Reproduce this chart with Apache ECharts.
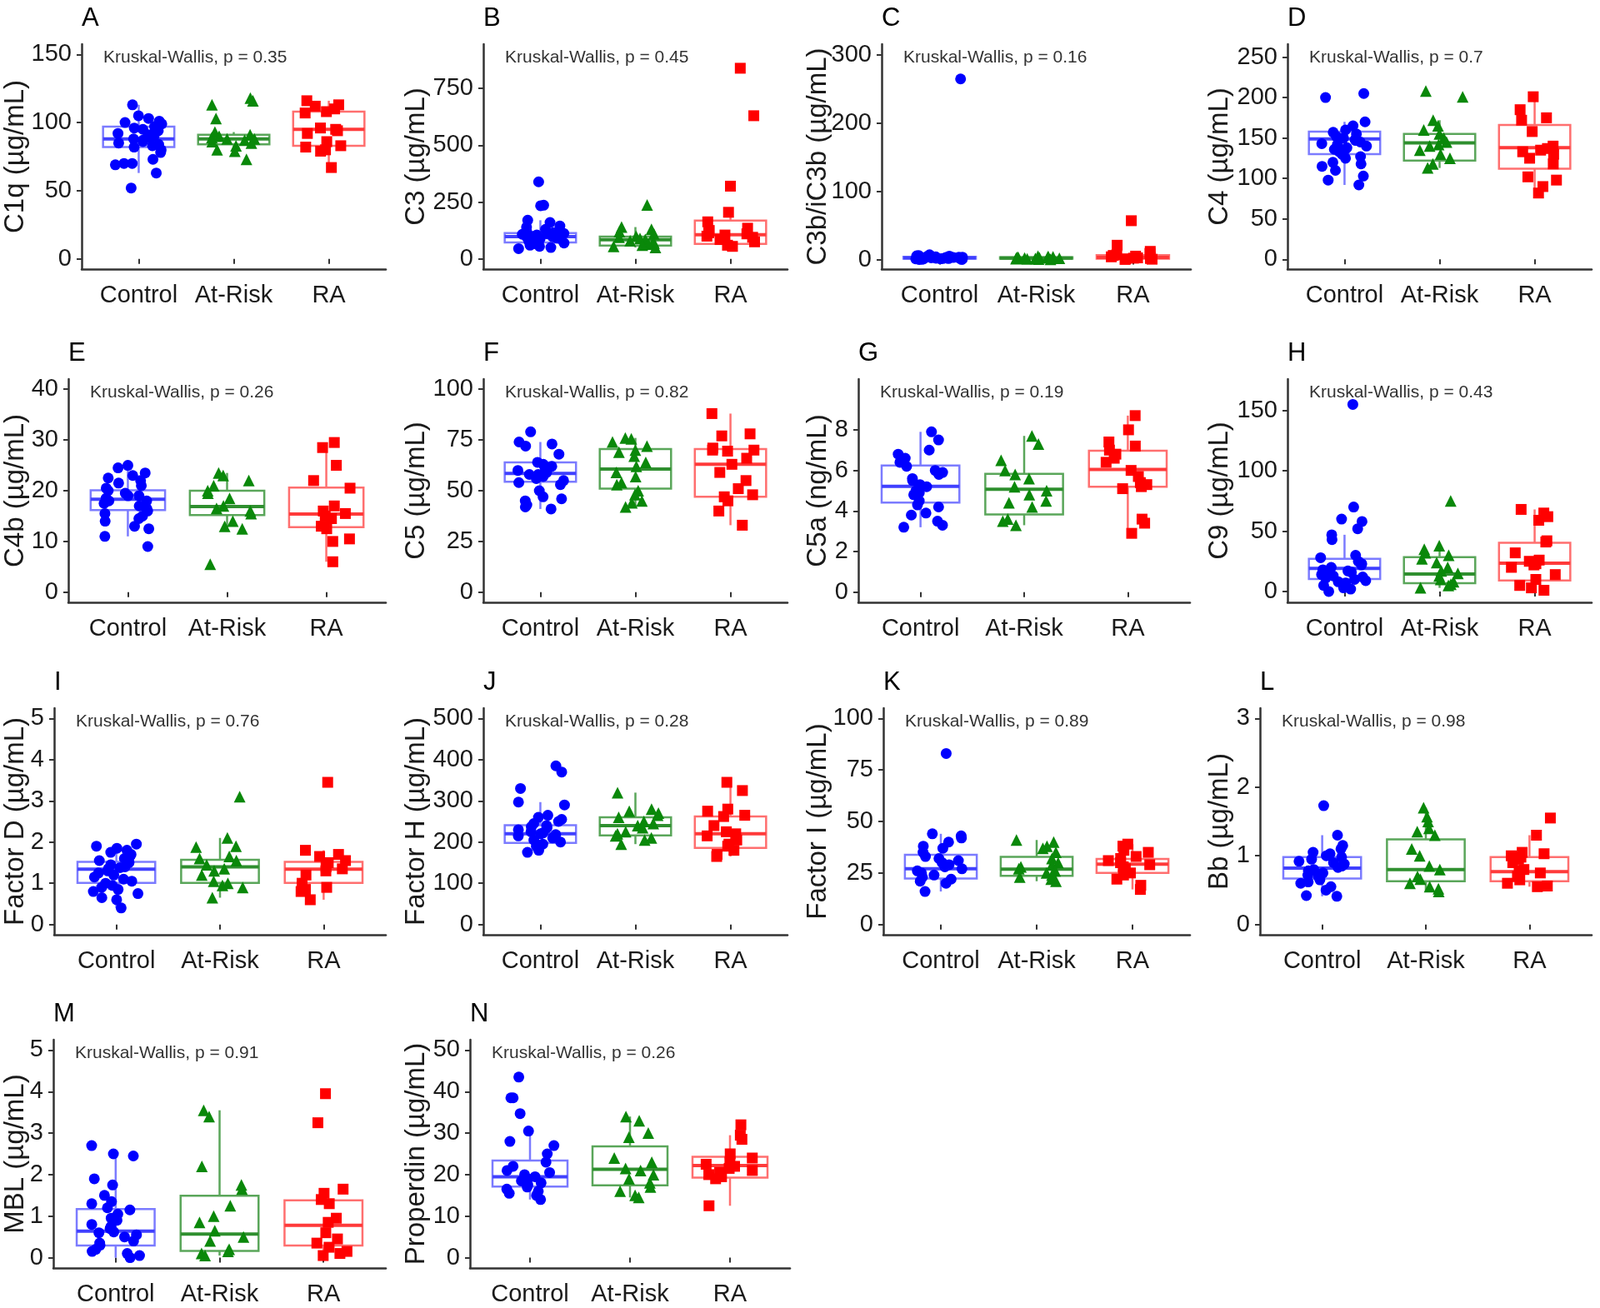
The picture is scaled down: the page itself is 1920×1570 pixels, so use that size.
<!DOCTYPE html>
<html>
<head>
<meta charset="utf-8">
<title>Complement proteins by group</title>
<script src="https://cdn.jsdelivr.net/npm/echarts@6.0.0/dist/echarts.min.js"></script>
<style>
html, body { margin: 0; padding: 0; background: #fff; }
#chart { width: 1920px; height: 1570px; }
</style>
</head>
<body>
<div id="chart"></div>
<script>
// groups on every x axis
const groups = ['Control', 'At-Risk', 'RA'];

const panelLetters = ['A', 'B', 'C', 'D', 'E', 'F', 'G', 'H', 'I', 'J', 'K', 'L', 'M', 'N'];
const yTitles = ['C1q (µg/mL)', 'C3 (µg/mL)', 'C3b/iC3b (µg/mL)', 'C4 (µg/mL)',
  'C4b (µg/mL)', 'C5 (µg/mL)', 'C5a (ng/mL)', 'C9 (µg/mL)',
  'Factor D (µg/mL)', 'Factor H (µg/mL)', 'Factor I (µg/mL)', 'Bb (µg/mL)',
  'MBL (µg/mL)', 'Properdin (µg/mL)'];
const pValues = ['0.35', '0.45', '0.16', '0.7', '0.26', '0.82', '0.19', '0.43',
  '0.76', '0.28', '0.89', '0.98', '0.91', '0.26'];

// y tick labels
const c1qTicks = [0, 50, 100, 150];
const c3Ticks = [0, 250, 500, 750];
const c3bTicks = [0, 100, 200, 300];
const c4Ticks = [0, 50, 100, 150, 200, 250];
const c4bTicks = [0, 10, 20, 30, 40];
const c5Ticks = [0, 25, 50, 75, 100];
const c5aTicks = [0, 2, 4, 6, 8];
const c9Ticks = [0, 50, 100, 150];
const fdTicks = [0, 1, 2, 3, 4, 5];
const fhTicks = [0, 100, 200, 300, 400, 500];
const fiTicks = [0, 25, 50, 75, 100];
const bbTicks = [0, 1, 2, 3];
const mblTicks = [0, 1, 2, 3, 4, 5];
const propTicks = [0, 10, 20, 30, 40, 50];

// box stats per group: [lower whisker, Q1, median, Q3, upper whisker]
const c1qBox = [[63, 82, 88, 97, 113], [79, 84, 88, 91, 93], [67, 83, 95, 108, 116]];
const c3Box = [[45, 72, 98, 114, 170], [50, 59, 84, 98, 140], [55, 66, 106, 169, 205]];
const c3bBox = [[0.2, 1.2, 2.5, 4, 7], [0.5, 1.2, 2.2, 3.5, 5], [0.2, 1.2, 3, 6.5, 12]];
const c4Box = [[92, 130, 149, 158, 170], [113, 122, 144, 155, 172], [82, 112, 138, 166, 201]];
const c4bBox = [[11, 16.2, 18.3, 20.1, 25], [12.5, 15.2, 16.9, 20, 23.5], [6, 12.8, 15.4, 20.6, 29.5]];
const c5Box = [[41, 54.4, 58.5, 64, 74], [42, 51, 60.7, 70.5, 76], [33, 47, 63, 70.5, 88]];
const c5aBox = [[3.2, 4.41, 5.22, 6.24, 7.9], [3.3, 3.83, 5.07, 5.83, 7.7], [2.9, 5.19, 6.05, 6.97, 8.7]];
const c9Box = [[0, 10.4, 19.2, 27, 47], [3, 6.9, 14.5, 28.4, 38], [1, 9.2, 23.5, 40.4, 68]];
const fdBox = [[0.4, 1.01, 1.34, 1.52, 1.95], [0.65, 1.01, 1.4, 1.57, 2.1], [0.6, 1.01, 1.34, 1.52, 1.8]];
const fhBox = [[175, 198, 220, 241, 297], [195, 216, 240, 260, 320], [165, 186, 220, 262, 345]];
const fiBox = [[16, 22.3, 27, 33.8, 44], [21, 23.6, 26.8, 32.8, 41], [17, 25, 29.3, 31.8, 39]];
const bbBox = [[0.41, 0.67, 0.82, 0.98, 1.3], [0.48, 0.63, 0.8, 1.24, 1.7], [0.55, 0.63, 0.77, 0.98, 1.3]];
const mblBox = [[0, 0.29, 0.64, 1.17, 2.45], [0.05, 0.16, 0.57, 1.49, 3.55], [0.05, 0.29, 0.78, 1.38, 1.65]];
const propBox = [[14, 17.1, 19.5, 23.4, 30.5], [14.5, 17.4, 21.3, 26.8, 34], [12.5, 19.3, 22.2, 24.3, 29.5]];

// individual samples
const c1qControl = [113, 105, 103, 101, 100, 99, 98, 97, 96, 95, 94, 93, 92, 91, 90, 89, 88, 87, 86, 85, 84, 83, 82, 80, 78, 73, 70, 70, 69, 63, 52];
const c1qAtRisk = [118, 116, 113, 103, 93, 91, 90, 89, 88, 88, 87, 86, 85, 83, 80, 79, 73];
const c1qRA = [116, 113, 112, 110, 108, 107, 96, 95, 94, 92, 86, 83, 82, 80, 79, 67];

const c3Control = [339, 236, 234, 170, 160, 145, 140, 130, 125, 120, 115, 112, 110, 108, 105, 100, 98, 96, 94, 92, 90, 88, 85, 82, 78, 75, 70, 65, 60, 55, 50, 45];
const c3AtRisk = [237, 140, 130, 120, 110, 100, 95, 90, 85, 80, 75, 70, 65, 60, 55, 50];
const c3RA = [839, 630, 320, 205, 163, 135, 125, 115, 110, 105, 100, 95, 85, 75, 60, 55];

const c3bControl = [265, 7, 6, 5.5, 5, 4.5, 4, 4, 3.5, 3.5, 3, 3, 3, 2.5, 2.5, 2.5, 2, 2, 2, 1.5, 1.5, 1.5, 1, 1, 1, 0.8, 0.5, 0.5, 0.3, 0.2];
const c3bAtRisk = [5, 4.5, 4, 3.5, 3, 3, 2.5, 2, 2, 1.8, 1.5, 1.2, 1, 0.8, 0.5];
const c3bRA = [57, 21, 12, 9, 7, 6, 5, 4, 3, 2.5, 2, 1.5, 1, 0.5, 0.2];

const c4Control = [205, 200, 170, 165, 160, 157, 155, 152, 150, 148, 147, 145, 143, 142, 140, 138, 136, 135, 133, 130, 127, 125, 120, 118, 115, 110, 103, 98, 92];
const c4AtRisk = [208, 201, 172, 165, 160, 155, 150, 145, 142, 140, 135, 130, 125, 118, 113];
const c4RA = [201, 185, 175, 172, 158, 140, 137, 135, 133, 130, 125, 118, 102, 98, 90, 82];

const c4bControl = [25, 24.5, 23.5, 23, 22.5, 22, 21.5, 21, 20.5, 20, 19.5, 19, 19, 18.5, 18, 18, 17.5, 17, 16.5, 16, 15.5, 15, 14.5, 14, 13, 12.5, 11, 9];
const c4bAtRisk = [23.5, 23, 22, 21, 20, 19.5, 18.5, 17, 16.5, 16, 15.5, 14, 13, 12.5, 5.5];
const c4bRA = [29.5, 28.5, 25, 22, 20.5, 17, 16, 15.5, 15, 14.5, 13, 12.5, 10.5, 10, 6];

const c5Control = [79, 74, 73, 72, 68, 64, 63, 62, 61, 60, 59, 58, 58, 57, 56, 55, 54, 53, 50, 47, 46, 45, 43, 42, 41];
const c5AtRisk = [76, 75.5, 74, 72, 70, 69, 67, 64, 62, 59, 57, 54, 53, 50, 48, 45, 44, 42];
const c5RA = [88, 78, 77, 71, 70, 70, 69.5, 66, 63, 59, 55, 51, 48, 47, 45, 40, 33];

const c5aControl = [7.9, 7.5, 7.0, 6.8, 6.6, 6.4, 6.2, 6.0, 5.9, 5.8, 5.6, 5.5, 5.3, 5.2, 5.0, 4.9, 4.8, 4.5, 4.3, 4.2, 3.9, 3.8, 3.5, 3.3, 3.2];
const c5aAtRisk = [7.7, 7.3, 6.5, 6.0, 5.8, 5.6, 5.2, 5.0, 4.8, 4.5, 4.4, 4.2, 3.6, 3.5, 3.3];
const c5aRA = [8.7, 8.0, 7.4, 7.2, 7.0, 6.8, 6.6, 6.4, 6.0, 5.7, 5.4, 5.3, 5.2, 5.1, 3.6, 3.4, 2.9];

const c9Control = [155, 70, 60, 58, 52, 47, 43, 30, 28, 25, 23, 22, 20, 18, 17, 16, 15, 14, 13, 12, 11, 10, 9, 8, 7, 5, 3, 2, 0];
const c9AtRisk = [75, 38, 35, 32, 30, 27, 24, 20, 17, 15, 13, 10, 8, 6, 5, 3];
const c9RA = [68, 65, 62, 59, 42, 41, 32, 26, 25, 23, 22, 20, 14, 10, 5, 3, 1];

const fdControl = [1.95, 1.9, 1.85, 1.8, 1.75, 1.7, 1.65, 1.6, 1.55, 1.5, 1.45, 1.4, 1.38, 1.35, 1.3, 1.25, 1.2, 1.15, 1.1, 1.05, 1.0, 0.95, 0.9, 0.85, 0.8, 0.75, 0.65, 0.6, 0.4];
const fdAtRisk = [3.1, 2.1, 1.9, 1.88, 1.65, 1.6, 1.55, 1.45, 1.35, 1.3, 1.2, 1.05, 1.0, 0.95, 0.9, 0.65];
const fdRA = [3.45, 1.8, 1.7, 1.65, 1.55, 1.5, 1.4, 1.35, 1.3, 1.2, 1.0, 0.9, 0.85, 0.8, 0.6];

const fhControl = [385, 370, 330, 297, 290, 265, 260, 255, 250, 245, 240, 237, 235, 230, 225, 222, 220, 218, 215, 210, 205, 200, 195, 190, 180, 175];
const fhAtRisk = [320, 280, 275, 270, 265, 260, 250, 245, 240, 235, 225, 220, 215, 210, 205, 195];
const fhRA = [345, 325, 280, 275, 265, 262, 240, 225, 220, 215, 205, 195, 190, 180, 170, 165];

const fiControl = [83, 44, 43, 42, 40, 38, 37, 35, 33, 32, 31, 30, 29, 28, 27, 26, 25, 24, 23, 22, 21, 20, 16];
const fiAtRisk = [41, 40, 38, 37, 35, 32, 30, 29, 28, 27, 26, 25, 24, 23, 22, 21];
const fiRA = [39, 38, 36, 35, 33, 32, 31, 30, 29, 28, 27, 25, 24, 22, 19, 17];

const bbControl = [1.73, 1.3, 1.15, 1.1, 1.05, 1.03, 1.0, 0.98, 0.95, 0.92, 0.9, 0.88, 0.85, 0.83, 0.8, 0.78, 0.75, 0.72, 0.7, 0.65, 0.62, 0.6, 0.55, 0.5, 0.42, 0.41];
const bbAtRisk = [1.7, 1.57, 1.5, 1.4, 1.35, 1.3, 1.1, 1.0, 0.85, 0.8, 0.7, 0.66, 0.6, 0.55, 0.52, 0.48];
const bbRA = [1.55, 1.3, 1.05, 1.03, 1.0, 0.98, 0.95, 0.9, 0.8, 0.78, 0.75, 0.7, 0.65, 0.6, 0.56, 0.55];

const mblControl = [2.7, 2.5, 2.45, 1.9, 1.75, 1.5, 1.35, 1.3, 1.2, 1.15, 1.05, 0.95, 0.9, 0.8, 0.75, 0.7, 0.62, 0.6, 0.55, 0.5, 0.4, 0.35, 0.3, 0.2, 0.15, 0.1, 0.05, 0.0];
const mblAtRisk = [3.55, 3.4, 2.2, 1.75, 1.65, 1.25, 1.0, 0.85, 0.65, 0.5, 0.4, 0.2, 0.15, 0.1, 0.05];
const mblRA = [3.95, 3.25, 1.65, 1.55, 1.4, 1.3, 0.95, 0.85, 0.6, 0.45, 0.35, 0.25, 0.15, 0.1, 0.05];

const propControl = [43.5, 38.5, 38.5, 34.7, 30.5, 28, 27, 25, 23, 22, 21, 20.5, 20, 19.5, 19, 18.5, 18, 17.5, 17, 16.5, 16, 15.5, 15, 14];
const propAtRisk = [34, 33, 30, 29, 24, 23, 21.5, 21, 20, 19, 18, 17, 16, 15, 14.5];
const propRA = [32, 29.5, 28.5, 25, 24, 23, 22.5, 22, 21.5, 21, 20.5, 20, 19.5, 19, 12.5];

const tickSets = [c1qTicks, c3Ticks, c3bTicks, c4Ticks, c4bTicks, c5Ticks, c5aTicks, c9Ticks,
  fdTicks, fhTicks, fiTicks, bbTicks, mblTicks, propTicks];
const boxSets = [c1qBox, c3Box, c3bBox, c4Box, c4bBox, c5Box, c5aBox, c9Box,
  fdBox, fhBox, fiBox, bbBox, mblBox, propBox];
const pointSets = [
  [c1qControl, c1qAtRisk, c1qRA], [c3Control, c3AtRisk, c3RA], [c3bControl, c3bAtRisk, c3bRA],
  [c4Control, c4AtRisk, c4RA], [c4bControl, c4bAtRisk, c4bRA], [c5Control, c5AtRisk, c5RA],
  [c5aControl, c5aAtRisk, c5aRA], [c9Control, c9AtRisk, c9RA], [fdControl, fdAtRisk, fdRA],
  [fhControl, fhAtRisk, fhRA], [fiControl, fiAtRisk, fiRA], [bbControl, bbAtRisk, bbRA],
  [mblControl, mblAtRisk, mblRA], [propControl, propAtRisk, propRA]
];

// ---- layout (pixels) ----
const rowTop = [53, 455, 850, 1248];
const rowBottom = [323, 723, 1122, 1522];
const titleEdge = [35, 516, 998, 1480];   // right edge of the rotated y titles per column
const plotLeft = [98, 580, 1058, 1545, 82, 580, 1030, 1545, 65, 580, 1060, 1512, 64, 564];
const plotRight = [463, 945, 1429, 1910, 463, 945, 1428, 1910, 463, 945, 1428, 1910, 463, 948];
const yMin = [-7.5, -45, -14, -12, -2, -5, -0.5, -9, -0.25, -25, -5, -0.15, -0.25, -2.5];
const yMax = [157.5, 945, 316, 266, 42, 105, 10.5, 176, 5.25, 525, 105, 3.15, 5.25, 52.5];

const pointColors = ['#0000ff', '#0a880a', '#ff0000'];
const boxColors = ['#7b7bff', '#5aa65a', '#ff6f6f'];
const medianColors = ['#4040ff', '#2f8f2f', '#ff3a3a'];
const symbols = ['circle', 'triangle', 'rect'];

const FONT = "'Liberation Sans', Arial, sans-serif";
const AXIS_COLOR = '#333333';

function renderBox(params, api) {
  const g = api.value(0);
  const lo = api.coord([g, api.value(1)]);
  const q1 = api.coord([g, api.value(2)]);
  const med = api.coord([g, api.value(3)]);
  const q3 = api.coord([g, api.value(4)]);
  const hi = api.coord([g, api.value(5)]);
  const half = api.size([1, 0])[0] * 0.375;   // ggplot default width 0.75
  const line = { stroke: boxColors[g], lineWidth: 2.5 };
  return {
    type: 'group',
    children: [
      { type: 'line', shape: { x1: lo[0], y1: lo[1], x2: q1[0], y2: q1[1] }, style: line },
      { type: 'line', shape: { x1: q3[0], y1: q3[1], x2: hi[0], y2: hi[1] }, style: line },
      { type: 'rect', shape: { x: q3[0] - half, y: q3[1], width: half * 2, height: q1[1] - q3[1] },
        style: { fill: 'rgba(0,0,0,0)', stroke: boxColors[g], lineWidth: 2.5 } },
      { type: 'line', shape: { x1: med[0] - half, y1: med[1], x2: med[0] + half, y2: med[1] },
        style: { stroke: medianColors[g], lineWidth: 4 } }
    ]
  };
}

const grids = [], xAxes = [], yAxes = [], series = [], graphics = [];

for (let i = 0; i < 14; i++) {
  const row = Math.floor(i / 4), col = i % 4;
  const L = plotLeft[i], W = plotRight[i] - plotLeft[i];
  const T = rowTop[row], H = rowBottom[row] - rowTop[row];

  // frame grid: axis lines + y labels over the full panel
  grids.push({ left: L, top: T, width: W, height: H, outerBoundsMode: 'none' });
  // data grid: categories sit at 0.6 / 1.6 / 2.6 of a 3.2 unit range like ggplot
  grids.push({ left: L + W / 32, top: T, width: W * 30 / 32, height: H, outerBoundsMode: 'none' });

  xAxes.push({
    gridIndex: 2 * i, type: 'value', min: 0, max: 1,
    axisLine: { show: true, onZero: false, lineStyle: { color: AXIS_COLOR, width: 2.5 } },
    axisTick: { show: false }, axisLabel: { show: false }, splitLine: { show: false }
  });
  yAxes.push({
    gridIndex: 2 * i, type: 'value', min: yMin[i], max: yMax[i],
    axisLine: { show: true, onZero: false, lineStyle: { color: AXIS_COLOR, width: 2.5 } },
    axisTick: { show: true, length: 6, customValues: tickSets[i], lineStyle: { color: AXIS_COLOR, width: 2 } },
    axisLabel: { customValues: tickSets[i], fontSize: 29, fontFamily: FONT, color: '#1a1a1a', margin: 12 },
    splitLine: { show: false },
    name: yTitles[i], nameLocation: 'middle', nameGap: L - titleEdge[col],
    nameMoveOverlap: false,
    nameTextStyle: { fontSize: 33, fontFamily: FONT, color: '#1a1a1a' }
  });

  xAxes.push({
    gridIndex: 2 * i + 1, type: 'category', data: groups,
    jitter: 58, jitterOverlap: true,
    axisLine: { show: false },
    axisTick: { show: true, alignWithLabel: true, interval: 0, length: 6, lineStyle: { color: AXIS_COLOR, width: 2 } },
    axisLabel: { interval: 0, fontSize: 29, fontFamily: FONT, color: '#1a1a1a', margin: 17 },
    splitLine: { show: false }
  });
  yAxes.push({ gridIndex: 2 * i + 1, type: 'value', min: yMin[i], max: yMax[i], show: false });

  series.push({
    type: 'custom', xAxisIndex: 2 * i + 1, yAxisIndex: 2 * i + 1, silent: true, z: 2,
    renderItem: renderBox,
    encode: { x: 0, y: [1, 2, 3, 4, 5] },
    data: boxSets[i].map((b, g) => [g].concat(b))
  });
  pointSets[i].forEach(function (vals, g) {
    series.push({
      type: 'scatter', xAxisIndex: 2 * i + 1, yAxisIndex: 2 * i + 1, z: 3,
      symbol: symbols[g], symbolSize: g === 1 ? 14 : 13,
      itemStyle: { color: pointColors[g], opacity: 1 },
      data: vals.map(v => [g, v])
    });
  });

  graphics.push({
    type: 'text', x: L, y: T - 31,
    style: { text: panelLetters[i], fontSize: 31, fontFamily: FONT, fill: '#000', verticalAlign: 'middle' }
  });
  graphics.push({
    type: 'text', x: L + 26, y: T + 16,
    style: { text: 'Kruskal-Wallis, p = ' + pValues[i], fontSize: 21, fontFamily: FONT, fill: '#333', verticalAlign: 'middle' }
  });
}

const chart = echarts.init(document.getElementById('chart'), null, { renderer: 'canvas' });
chart.setOption({
  backgroundColor: '#ffffff',
  animation: false,
  grid: grids,
  xAxis: xAxes,
  yAxis: yAxes,
  series: series,
  graphic: graphics
});
</script>
</body>
</html>
